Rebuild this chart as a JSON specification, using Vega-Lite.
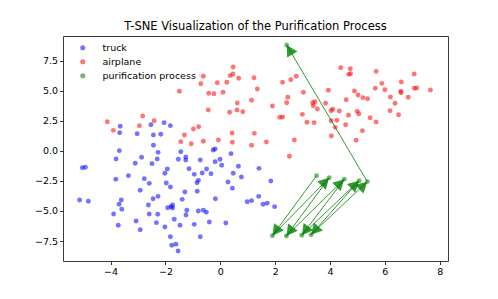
{
  "$schema": "https://vega.github.io/schema/vega-lite/v6.json",
  "width": 385,
  "height": 225,
  "autosize": "none",
  "padding": {"left": 63, "top": 36, "right": 50, "bottom": 38},
  "title": {"text": "T-SNE Visualization of the Purification Process", "font": "DejaVu Sans", "fontSize": 11.5, "fontWeight": "normal", "color": "#000000", "anchor": "middle", "frame": "group", "offset": 4},
  "config": {
    "view": {"stroke": "#3a3a3a", "strokeWidth": 1},
    "axis": {"domain": false, "grid": false, "labelFont": "DejaVu Sans", "labelFontSize": 9.5, "labelColor": "#000000", "tickColor": "#333333", "tickSize": 3.5, "labelPadding": 2, "labelOverlap": false, "labelFlush": false}
  },
  "data": {"values": [
    {"x": -3.65, "y": 2.05, "class": "truck"}, {"x": -3.67, "y": 1.51, "class": "truck"}, {"x": -3.03, "y": 1.43, "class": "truck"}, {"x": -2.53, "y": 2.18, "class": "truck"}, {"x": -2.44, "y": 1.32, "class": "truck"}, {"x": -2.17, "y": 1.38, "class": "truck"}, {"x": -2.05, "y": 2.35, "class": "truck"}, {"x": -1.82, "y": 2.10, "class": "truck"}, {"x": -2.44, "y": 0.47, "class": "truck"}, {"x": -3.68, "y": 0.02, "class": "truck"},
    {"x": -3.80, "y": -0.67, "class": "truck"}, {"x": -2.87, "y": -0.53, "class": "truck"}, {"x": -2.27, "y": -0.12, "class": "truck"}, {"x": -2.30, "y": -0.67, "class": "truck"}, {"x": -2.49, "y": -1.06, "class": "truck"}, {"x": -3.10, "y": -1.03, "class": "truck"}, {"x": -1.44, "y": -0.07, "class": "truck"}, {"x": -1.26, "y": -0.51, "class": "truck"}, {"x": -1.26, "y": -0.76, "class": "truck"}, {"x": -1.53, "y": -0.70, "class": "truck"},
    {"x": -0.73, "y": -0.76, "class": "truck"}, {"x": -0.26, "y": 0.07, "class": "truck"}, {"x": -0.19, "y": 0.16, "class": "truck"}, {"x": 0.39, "y": -0.23, "class": "truck"}, {"x": -0.19, "y": -0.90, "class": "truck"}, {"x": -0.01, "y": -0.70, "class": "truck"}, {"x": 0.05, "y": -1.20, "class": "truck"}, {"x": 0.66, "y": -1.28, "class": "truck"}, {"x": -5.03, "y": -1.40, "class": "truck"}, {"x": -4.92, "y": -1.36, "class": "truck"},
    {"x": -1.93, "y": -1.51, "class": "truck"}, {"x": -2.02, "y": -1.86, "class": "truck"}, {"x": -1.14, "y": -1.48, "class": "truck"}, {"x": -0.95, "y": -1.95, "class": "truck"}, {"x": -0.66, "y": -1.84, "class": "truck"}, {"x": -0.50, "y": -1.51, "class": "truck"}, {"x": -0.34, "y": -1.90, "class": "truck"}, {"x": 0.47, "y": -1.86, "class": "truck"}, {"x": 0.77, "y": -2.17, "class": "truck"}, {"x": -3.81, "y": -2.36, "class": "truck"},
    {"x": -3.35, "y": -2.06, "class": "truck"}, {"x": -2.77, "y": -2.31, "class": "truck"}, {"x": -2.59, "y": -2.70, "class": "truck"}, {"x": -2.92, "y": -3.28, "class": "truck"}, {"x": -1.97, "y": -2.67, "class": "truck"}, {"x": -1.82, "y": -3.00, "class": "truck"}, {"x": -1.29, "y": -3.42, "class": "truck"}, {"x": -0.80, "y": -2.45, "class": "truck"}, {"x": -0.85, "y": -2.65, "class": "truck"}, {"x": -0.84, "y": -3.36, "class": "truck"},
    {"x": 0.28, "y": -2.59, "class": "truck"}, {"x": 0.44, "y": -3.11, "class": "truck"}, {"x": -5.13, "y": -4.08, "class": "truck"}, {"x": -4.81, "y": -4.19, "class": "truck"}, {"x": -3.61, "y": -4.08, "class": "truck"}, {"x": -3.69, "y": -4.44, "class": "truck"}, {"x": -3.59, "y": -4.86, "class": "truck"}, {"x": -3.89, "y": -5.25, "class": "truck"}, {"x": -3.72, "y": -6.19, "class": "truck"}, {"x": -3.07, "y": -5.83, "class": "truck"},
    {"x": -2.92, "y": -6.56, "class": "truck"}, {"x": -2.62, "y": -4.50, "class": "truck"}, {"x": -2.45, "y": -3.98, "class": "truck"}, {"x": -2.27, "y": -3.78, "class": "truck"}, {"x": -2.59, "y": -5.25, "class": "truck"}, {"x": -2.28, "y": -5.27, "class": "truck"}, {"x": -2.33, "y": -5.97, "class": "truck"}, {"x": -2.02, "y": -6.33, "class": "truck"}, {"x": -1.82, "y": -7.14, "class": "truck"}, {"x": -1.77, "y": -7.85, "class": "truck"},
    {"x": -1.62, "y": -7.77, "class": "truck"}, {"x": -1.54, "y": -8.33, "class": "truck"}, {"x": -1.68, "y": -5.69, "class": "truck"}, {"x": -1.47, "y": -6.19, "class": "truck"}, {"x": -1.92, "y": -4.73, "class": "truck"}, {"x": -1.80, "y": -4.64, "class": "truck"}, {"x": -1.74, "y": -4.50, "class": "truck"}, {"x": -1.74, "y": -4.75, "class": "truck"}, {"x": -1.39, "y": -4.03, "class": "truck"}, {"x": -1.22, "y": -4.94, "class": "truck"},
    {"x": -1.25, "y": -5.33, "class": "truck"}, {"x": -0.80, "y": -5.00, "class": "truck"}, {"x": -0.62, "y": -4.94, "class": "truck"}, {"x": -0.51, "y": -5.11, "class": "truck"}, {"x": -0.18, "y": -3.98, "class": "truck"}, {"x": -0.40, "y": -5.92, "class": "truck"}, {"x": -0.95, "y": -6.11, "class": "truck"}, {"x": -0.73, "y": -7.14, "class": "truck"}, {"x": 0.20, "y": -6.00, "class": "truck"}, {"x": 0.98, "y": -4.23, "class": "truck"},
    {"x": 1.41, "y": -1.45, "class": "truck"}, {"x": 1.84, "y": -2.50, "class": "truck"}, {"x": 1.40, "y": -3.78, "class": "truck"}, {"x": 1.14, "y": -4.14, "class": "truck"}, {"x": 1.56, "y": -4.44, "class": "truck"}, {"x": 1.71, "y": -4.36, "class": "truck"}, {"x": 1.98, "y": -4.64, "class": "truck"},

    {"x": -1.49, "y": 4.96, "class": "airplane"}, {"x": -0.62, "y": 6.21, "class": "airplane"}, {"x": -0.71, "y": 5.59, "class": "airplane"}, {"x": -0.11, "y": 5.67, "class": "airplane"}, {"x": 0.24, "y": 5.71, "class": "airplane"}, {"x": -0.42, "y": 4.79, "class": "airplane"}, {"x": -0.23, "y": 4.76, "class": "airplane"}, {"x": 0.10, "y": 4.88, "class": "airplane"}, {"x": 0.47, "y": 6.98, "class": "airplane"}, {"x": 0.46, "y": 6.40, "class": "airplane"},
    {"x": 0.36, "y": 6.26, "class": "airplane"}, {"x": 0.67, "y": 6.04, "class": "airplane"}, {"x": 0.62, "y": 3.99, "class": "airplane"}, {"x": -0.44, "y": 3.40, "class": "airplane"}, {"x": 0.34, "y": 3.21, "class": "airplane"}, {"x": 0.61, "y": 3.40, "class": "airplane"}, {"x": 0.82, "y": 3.26, "class": "airplane"}, {"x": -4.12, "y": 2.43, "class": "airplane"}, {"x": -3.90, "y": 1.71, "class": "airplane"}, {"x": -2.83, "y": 2.90, "class": "airplane"},
    {"x": -2.95, "y": 2.10, "class": "airplane"}, {"x": -2.41, "y": 2.51, "class": "airplane"}, {"x": -0.98, "y": 1.82, "class": "airplane"}, {"x": -0.79, "y": 2.01, "class": "airplane"}, {"x": -1.31, "y": 1.32, "class": "airplane"}, {"x": -1.44, "y": 0.77, "class": "airplane"}, {"x": -1.06, "y": 0.60, "class": "airplane"}, {"x": -0.62, "y": 0.80, "class": "airplane"}, {"x": -0.07, "y": 0.91, "class": "airplane"}, {"x": 0.43, "y": 1.49, "class": "airplane"},
    {"x": 0.44, "y": 0.72, "class": "airplane"}, {"x": 4.39, "y": 6.92, "class": "airplane"}, {"x": 4.74, "y": 6.84, "class": "airplane"}, {"x": 4.68, "y": 6.37, "class": "airplane"}, {"x": 4.75, "y": 6.42, "class": "airplane"}, {"x": 5.68, "y": 6.62, "class": "airplane"}, {"x": 7.07, "y": 6.40, "class": "airplane"}, {"x": 1.23, "y": 6.09, "class": "airplane"}, {"x": 1.35, "y": 5.15, "class": "airplane"}, {"x": 1.14, "y": 4.21, "class": "airplane"},
    {"x": 2.27, "y": 5.71, "class": "airplane"}, {"x": 2.57, "y": 5.92, "class": "airplane"}, {"x": 2.77, "y": 6.21, "class": "airplane"}, {"x": 3.03, "y": 4.88, "class": "airplane"}, {"x": 3.94, "y": 5.04, "class": "airplane"}, {"x": 4.89, "y": 4.98, "class": "airplane"}, {"x": 5.02, "y": 4.65, "class": "airplane"}, {"x": 5.20, "y": 4.43, "class": "airplane"}, {"x": 5.37, "y": 4.34, "class": "airplane"}, {"x": 5.65, "y": 5.21, "class": "airplane"},
    {"x": 6.00, "y": 5.09, "class": "airplane"}, {"x": 5.89, "y": 5.62, "class": "airplane"}, {"x": 6.60, "y": 5.73, "class": "airplane"}, {"x": 6.58, "y": 4.96, "class": "airplane"}, {"x": 6.59, "y": 4.84, "class": "airplane"}, {"x": 7.07, "y": 5.21, "class": "airplane"}, {"x": 7.16, "y": 5.23, "class": "airplane"}, {"x": 7.66, "y": 5.07, "class": "airplane"}, {"x": 6.85, "y": 4.46, "class": "airplane"}, {"x": 6.20, "y": 4.48, "class": "airplane"},
    {"x": 6.37, "y": 3.96, "class": "airplane"}, {"x": 6.19, "y": 3.34, "class": "airplane"}, {"x": 6.50, "y": 3.01, "class": "airplane"}, {"x": 1.90, "y": 3.74, "class": "airplane"}, {"x": 2.42, "y": 4.01, "class": "airplane"}, {"x": 2.46, "y": 4.46, "class": "airplane"}, {"x": 2.17, "y": 2.80, "class": "airplane"}, {"x": 2.27, "y": 2.82, "class": "airplane"}, {"x": 2.99, "y": 3.04, "class": "airplane"}, {"x": 3.16, "y": 2.38, "class": "airplane"},
    {"x": 3.42, "y": 2.35, "class": "airplane"}, {"x": 3.37, "y": 4.01, "class": "airplane"}, {"x": 3.45, "y": 4.09, "class": "airplane"}, {"x": 3.39, "y": 3.76, "class": "airplane"}, {"x": 3.54, "y": 3.49, "class": "airplane"}, {"x": 3.84, "y": 3.96, "class": "airplane"}, {"x": 4.59, "y": 4.26, "class": "airplane"}, {"x": 4.10, "y": 3.46, "class": "airplane"}, {"x": 4.04, "y": 3.34, "class": "airplane"}, {"x": 4.34, "y": 3.32, "class": "airplane"},
    {"x": 4.25, "y": 2.55, "class": "airplane"}, {"x": 4.04, "y": 2.51, "class": "airplane"}, {"x": 4.19, "y": 1.96, "class": "airplane"}, {"x": 4.57, "y": 2.18, "class": "airplane"}, {"x": 4.67, "y": 2.96, "class": "airplane"}, {"x": 4.99, "y": 3.29, "class": "airplane"}, {"x": 5.05, "y": 3.07, "class": "airplane"}, {"x": 5.46, "y": 2.76, "class": "airplane"}, {"x": 5.68, "y": 2.40, "class": "airplane"}, {"x": 5.18, "y": 1.68, "class": "airplane"},
    {"x": 4.05, "y": 1.24, "class": "airplane"}, {"x": 4.95, "y": 0.88, "class": "airplane"}, {"x": 1.24, "y": 1.46, "class": "airplane"}, {"x": 1.68, "y": 0.74, "class": "airplane"}, {"x": 2.70, "y": 0.91, "class": "airplane"}, {"x": 1.14, "y": 0.47, "class": "airplane"}, {"x": 2.52, "y": -0.45, "class": "airplane"},

    {"x": 3.51, "y": -2.06, "class": "purification process", "step": 0},
    {"x": 1.90, "y": -7.05, "class": "purification process", "step": 1},
    {"x": 3.97, "y": -2.23, "class": "purification process", "step": 2},
    {"x": 2.41, "y": -7.08, "class": "purification process", "step": 3},
    {"x": 4.52, "y": -2.36, "class": "purification process", "step": 4},
    {"x": 2.97, "y": -7.02, "class": "purification process", "step": 5},
    {"x": 5.06, "y": -2.48, "class": "purification process", "step": 6},
    {"x": 3.31, "y": -6.97, "class": "purification process", "step": 7},
    {"x": 5.36, "y": -2.56, "class": "purification process", "step": 8},
    {"x": 2.42, "y": 8.81, "class": "purification process", "step": 9}
  ]},
  "layer": [
    {
      "mark": {"type": "circle", "size": 24, "opacity": 0.55},
      "encoding": {
        "x": {"field": "x", "type": "quantitative", "scale": {"domain": [-5.735, 8.301], "nice": false, "zero": false}, "axis": {"values": [-4, -2, 0, 2, 4, 6, 8], "tickCount": 20, "format": "d", "title": null, "labelOverlap": false, "labelFlush": false}},
        "y": {"field": "y", "type": "quantitative", "scale": {"domain": [-9.16, 9.559], "nice": false, "zero": false}, "axis": {"values": [-7.5, -5, -2.5, 0, 2.5, 5, 7.5], "tickCount": 20, "format": ".1f", "title": null, "labelOverlap": false, "labelFlush": false, "labelBound": false}},
        "color": {"field": "class", "type": "nominal",
          "scale": {"domain": ["truck", "airplane", "purification process"], "range": ["#0000ff", "#ff0000", "#008000"]},
          "legend": {"title": null, "orient": "none", "legendX": 15, "legendY": 7, "padding": 0, "labelFont": "DejaVu Sans", "labelFontSize": 9.5, "labelColor": "#000000", "symbolType": "circle", "symbolSize": 26, "symbolOpacity": 0.55, "symbolStrokeWidth": 0, "labelOffset": 15, "rowPadding": 3}}
      }
    },
    {
      "transform": [{"filter": "datum['class'] === 'purification process'"}],
      "mark": {"type": "line", "color": "#008000", "strokeWidth": 1, "opacity": 0.8},
      "encoding": {
        "x": {"field": "x", "type": "quantitative"},
        "y": {"field": "y", "type": "quantitative"},
        "order": {"field": "step", "type": "quantitative"}
      }
    },
    {
      "transform": [
        {"filter": "datum['class'] === 'purification process'"},
        {"window": [{"op": "lag", "field": "x", "as": "px"}, {"op": "lag", "field": "y", "as": "py"}], "sort": [{"field": "step"}]},
        {"filter": "datum.px != null"},
        {"calculate": "atan2((datum.x - datum.px) * 27.43, (datum.y - datum.py) * 12.02) * 180 / PI", "as": "ang"}
      ],
      "mark": {"type": "point", "filled": true, "color": "#008000", "opacity": 0.8, "size": 400, "shape": "M0,0L-0.6,1.1L0.6,1.1Z", "strokeWidth": 0},
      "encoding": {
        "x": {"field": "x", "type": "quantitative"},
        "y": {"field": "y", "type": "quantitative"},
        "angle": {"field": "ang", "type": "quantitative", "scale": null}
      }
    }
  ]
}
